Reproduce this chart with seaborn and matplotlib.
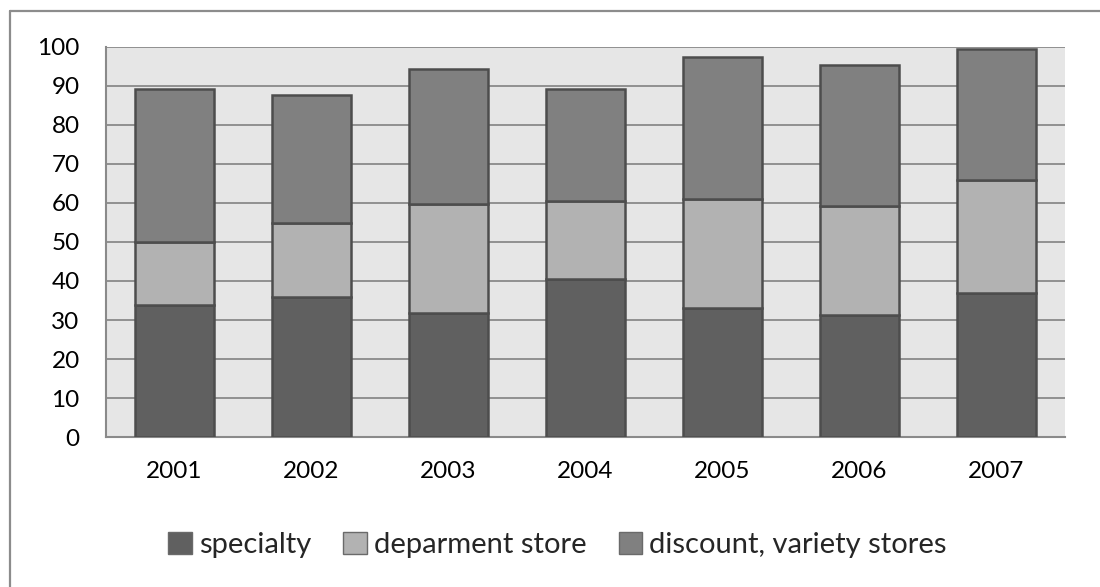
import matplotlib
matplotlib.use("Agg")
import matplotlib.pyplot as plt
import seaborn as sns
import numpy as np
import pandas as pd
from matplotlib.patches import Patch
from matplotlib.lines import Line2D

# Sales share by store type, 2001-2007
years = ["2001", "2002", "2003", "2004", "2005", "2006", "2007"]
specialty = [33.8, 35.8, 31.8, 40.4, 33.2, 31.2, 36.8]
department = [16.2, 19.1, 27.9, 20.0, 27.9, 28.0, 29.0]
discount = [39.3, 32.9, 34.7, 28.7, 36.3, 36.3, 33.7]
series_names = ["specialty", "deparment store", "discount, variety stores"]
colors = ["#606060", "#b2b2b2", "#808080"]
y_ticks = list(range(0, 101, 10))

sns.set_theme(style="white")
plt.rcParams["font.family"] = ["Lato", "DejaVu Sans"]

df = pd.DataFrame({"year": years, "specialty": specialty,
                   "department": department, "discount": discount})

fig = plt.figure(figsize=(11, 5.87), dpi=100)
ax = fig.add_axes([0.0964, 0.2555, 0.8718, 0.6645])
ax.set_facecolor("#e6e6e6")

bottoms = np.zeros(len(years))
for col, color in zip(["specialty", "department", "discount"], colors):
    sns.barplot(data=df, x="year", y=col, bottom=bottoms, color=color,
                width=0.58, edgecolor="#4d4d4d", linewidth=1.8,
                saturation=1, ax=ax, zorder=3)
    bottoms = bottoms + df[col].to_numpy()

ax.set_ylim(0, 100)
ax.set_xlim(-0.5, len(years) - 0.5)
ax.set_yticks(y_ticks)
ax.set_xlabel("")
ax.set_ylabel("")
ax.yaxis.grid(True, color="#8a8a8a", linewidth=1.3, zorder=0)
ax.set_axisbelow(True)
for s in ["top", "right"]:
    ax.spines[s].set_visible(False)
for s in ["left", "bottom"]:
    ax.spines[s].set_color("#8a8a8a")
    ax.spines[s].set_linewidth(1.5)
ax.tick_params(axis="y", length=0, pad=19, labelsize=17.5, labelcolor="#000000")
ax.tick_params(axis="x", length=0, pad=17, labelsize=17.5, labelcolor="#000000")

handles = [Patch(facecolor=c, edgecolor="#6a6a6a", linewidth=1.0) for c in colors]
fig.legend(handles, series_names, loc="center", bbox_to_anchor=(0.507, 0.0716),
           ncol=3, frameon=False, fontsize=21, handlelength=0.8,
           handleheight=0.8, handletextpad=0.25, columnspacing=1.1)

# Outer chart border
fig.add_artist(Line2D([10 / 1100, 1.0], [1 - 11 / 587, 1 - 11 / 587],
                      transform=fig.transFigure, color="#8c8c8c", linewidth=1.6))
fig.add_artist(Line2D([10 / 1100, 10 / 1100], [0, 1 - 11 / 587],
                      transform=fig.transFigure, color="#8c8c8c", linewidth=1.6))

fig.savefig("out.png", dpi=100)
